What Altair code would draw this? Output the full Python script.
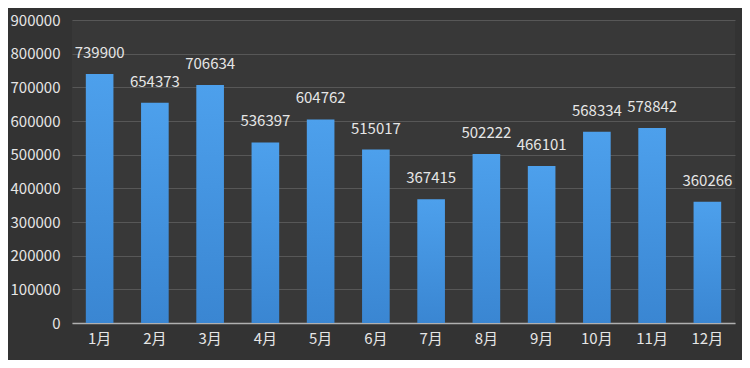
import altair as alt
import pandas as pd

months = ["1月", "2月", "3月", "4月", "5月", "6月", "7月", "8月", "9月", "10月", "11月", "12月"]
values = [739900, 654373, 706634, 536397, 604762, 515017, 367415, 502222, 466101, 568334, 578842, 360266]
y_ticks = [0, 100000, 200000, 300000, 400000, 500000, 600000, 700000, 800000, 900000]

df = pd.DataFrame({"month": months, "value": values})

FONT = "Noto Sans CJK SC"

base = alt.Chart(df).encode(
    x=alt.X("month:N", sort=months, title=None,
            scale=alt.Scale(paddingInner=0.5, paddingOuter=0.25),
            axis=alt.Axis(labelAngle=0, labelColor="#e6e6e6", labelFontSize=15, labelFont=FONT,
                          ticks=False, domainColor="#b0b0b0", domainWidth=1.5, labelPadding=8,
                          grid=False)),
    y=alt.Y("value:Q", title=None,
            scale=alt.Scale(domain=[0, 900000], nice=False),
            axis=alt.Axis(values=y_ticks, format="d", labelColor="#e6e6e6", labelFontSize=15,
                          labelFont=FONT, ticks=False, domain=False, labelPadding=12,
                          gridColor="#575757", gridWidth=1)),
)

bars = base.mark_bar(
    color=alt.Gradient(gradient="linear", x1=0, y1=0, x2=0, y2=1,
                       stops=[alt.GradientStop(color="#4da0ec", offset=0),
                              alt.GradientStop(color="#3a86d2", offset=1)])
)

labels = base.mark_text(dy=-21, color="#e6e6e6", fontSize=15, font=FONT).encode(
    text=alt.Text("value:Q", format="d")
)

chart = (bars + labels).properties(
    width=663, height=303,
    autosize=alt.AutoSizeParams(type="none"),
    padding={"left": 64, "top": 12, "right": 7, "bottom": 37},
    background="#333333",
).configure_view(
    stroke=None,
    fill="#383838",
)

chart.save("out.html", embed_options={"renderer": "svg", "actions": False})
